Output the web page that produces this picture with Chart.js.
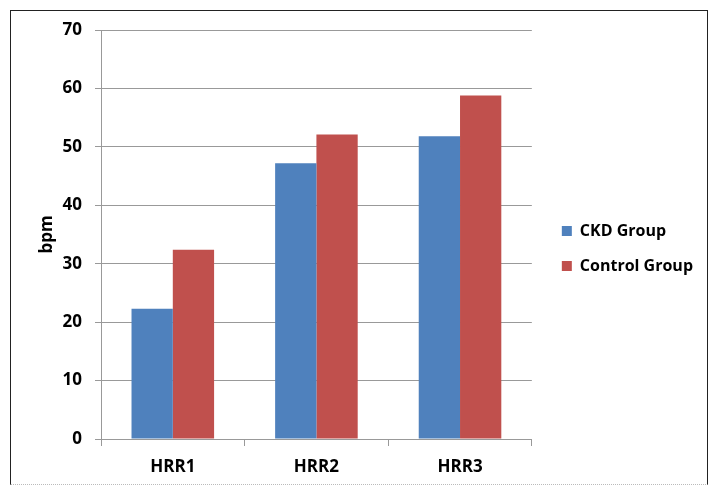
<!DOCTYPE html>
<html>
<head>
<meta charset="utf-8">
<script src="https://cdn.jsdelivr.net/npm/chart.js@4"></script>
<style>
  html, body { margin: 0; padding: 0; background: #fff; }
  #frame {
    position: absolute; left: 10px; top: 10px; width: 696px; height: 473px;
    border: 1px solid #222; border-bottom: 1px dotted #bbb;
  }
  #wrap { position: absolute; left: 0; top: 0; width: 710px; height: 487px; }
</style>
</head>
<body>
<div id="frame"></div>
<div id="wrap"><canvas id="hrrChart" width="710" height="487"></canvas></div>
<script>
// data
const categories = ['HRR1', 'HRR2', 'HRR3'];
const ckdValues = [22.3, 47.2, 51.8];
const controlValues = [32.4, 52.1, 58.8];
const yTicks = [0, 10, 20, 30, 40, 50, 60, 70];

// nudge the legend box so it sits where the original has it
const legendNudge = {
    id: 'legendNudge',
    afterLayout(chart) {
        const lg = chart.legend;
        if (!lg) return;
        lg.left += 11; lg.right += 11;
        lg.top -= 10; lg.bottom -= 10;
    }
};

document.addEventListener("DOMContentLoaded", function () {
    const ctx = document.getElementById("hrrChart").getContext("2d");
    const font = { family: 'Open Sans', size: 17, weight: 'bold' };
    const legendFont = { family: 'Open Sans', size: 16, weight: 'bold' };

    new Chart(ctx, {
        type: 'bar',
        data: {
            labels: categories,
            datasets: [{
                label: 'CKD Group',
                data: ckdValues,
                backgroundColor: '#4F81BD'
            }, {
                label: 'Control Group',
                data: controlValues,
                backgroundColor: '#C0504D'
            }]
        },
        options: {
            responsive: false,
            animation: false,
            layout: { padding: { left: 0, top: 30, right: 18, bottom: 0 } },
            datasets: { bar: { categoryPercentage: 0.575, barPercentage: 1.0 } },
            scales: {
                x: {
                    grid: { offset: true, drawOnChartArea: false, tickLength: 7, color: '#999' },
                    border: { color: '#999' },
                    ticks: { color: '#000', font: font, padding: 11 },
                    afterFit: function (axis) { axis.height = 48; }
                },
                y: {
                    min: 0, max: 70,
                    afterBuildTicks: function (axis) {
                        axis.ticks = yTicks.map(v => ({ value: v }));
                    },
                    grid: { color: '#999', tickLength: 6 },
                    border: { color: '#999' },
                    ticks: { color: '#000', font: font, padding: 13 },
                    title: { display: true, text: 'bpm', color: '#000', font: font, padding: { top: 37, bottom: 0 } },
                    afterFit: function (axis) { axis.width = 101; }
                }
            },
            plugins: {
                legend: {
                    position: 'right',
                    labels: { boxWidth: 10, boxHeight: 10, color: '#000', font: legendFont, padding: 19 }
                },
                tooltip: { enabled: false }
            }
        },
        plugins: [legendNudge]
    });
});
</script>
</body>
</html>
